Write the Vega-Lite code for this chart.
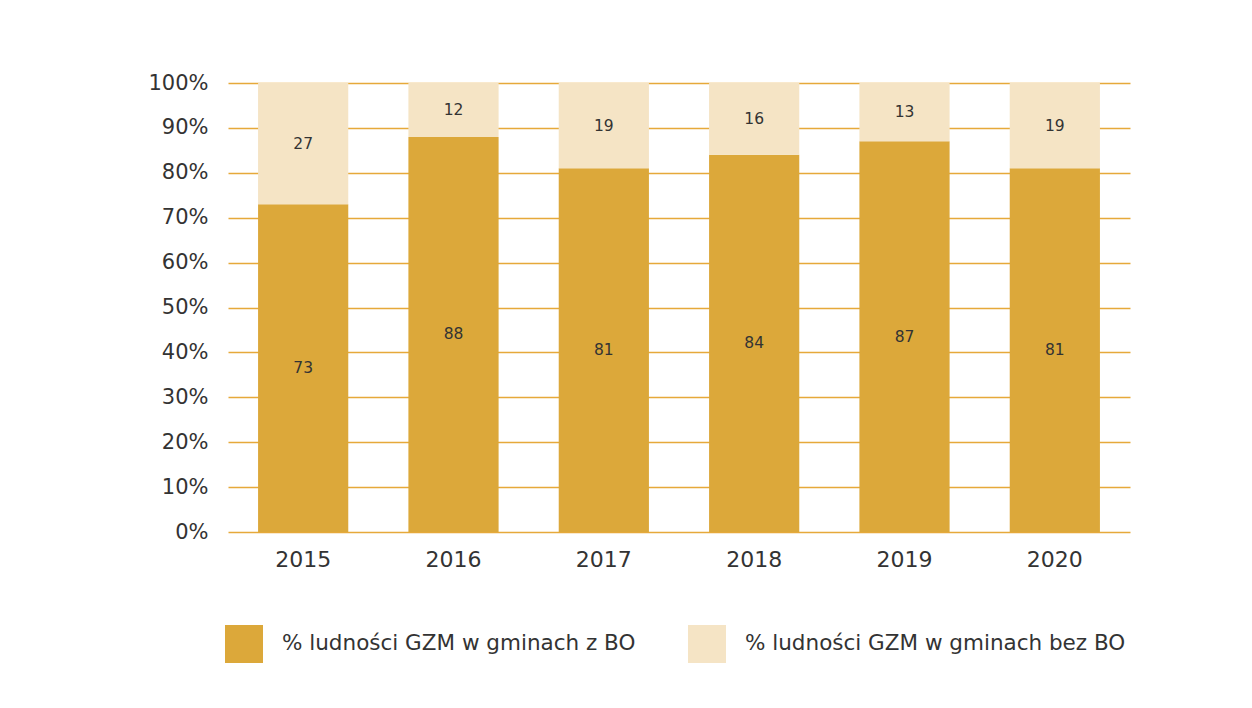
{
  "$schema": "https://vega.github.io/schema/vega-lite/v6.json",
  "width": 902,
  "height": 449,
  "autosize": "none",
  "padding": {"left": 228, "top": 83, "right": 122, "bottom": 176},
  "background": "white",
  "data": {"values": [
    {"year": "2015", "series": "% ludności GZM w gminach z BO", "value": 73, "k": 1},
    {"year": "2015", "series": "% ludności GZM w gminach bez BO", "value": 27, "k": 2},
    {"year": "2016", "series": "% ludności GZM w gminach z BO", "value": 88, "k": 1},
    {"year": "2016", "series": "% ludności GZM w gminach bez BO", "value": 12, "k": 2},
    {"year": "2017", "series": "% ludności GZM w gminach z BO", "value": 81, "k": 1},
    {"year": "2017", "series": "% ludności GZM w gminach bez BO", "value": 19, "k": 2},
    {"year": "2018", "series": "% ludności GZM w gminach z BO", "value": 84, "k": 1},
    {"year": "2018", "series": "% ludności GZM w gminach bez BO", "value": 16, "k": 2},
    {"year": "2019", "series": "% ludności GZM w gminach z BO", "value": 87, "k": 1},
    {"year": "2019", "series": "% ludności GZM w gminach bez BO", "value": 13, "k": 2},
    {"year": "2020", "series": "% ludności GZM w gminach z BO", "value": 81, "k": 1},
    {"year": "2020", "series": "% ludności GZM w gminach bez BO", "value": 19, "k": 2}
  ]},
  "transform": [
    {"stack": "value", "groupby": ["year"], "sort": [{"field": "k", "order": "ascending"}], "as": ["v0", "v1"]},
    {"calculate": "(datum.v0 + datum.v1) / 2", "as": "mid"}
  ],
  "encoding": {
    "x": {
      "field": "year", "type": "nominal",
      "scale": {"paddingInner": 0.4, "paddingOuter": 0.2},
      "axis": {"title": null, "labelAngle": 0, "ticks": false, "domain": false, "grid": false,
        "labelFont": "DejaVu Sans", "labelFontSize": 22, "labelColor": "#333333", "labelPadding": 17}
    }
  },
  "layer": [
    {
      "mark": {"type": "bar"},
      "encoding": {
        "y": {"field": "v1", "type": "quantitative",
          "scale": {"domain": [0, 100]},
          "axis": {"title": null, "values": [0,10,20,30,40,50,60,70,80,90,100], "labelOverlap": false,
            "labelExpr": "datum.value + '%'", "domain": false, "ticks": false,
            "gridColor": "#E6A93A", "gridWidth": 1.5, "gridOpacity": 1,
            "labelFont": "DejaVu Sans", "labelFontSize": 21, "labelColor": "#333333", "labelPadding": 20}},
        "y2": {"field": "v0"},
        "color": {"field": "series", "type": "nominal",
          "scale": {"domain": ["% ludności GZM w gminach z BO", "% ludności GZM w gminach bez BO"], "range": ["#DCA83A", "#F5E4C5"]},
          "legend": {"title": null, "orient": "none", "legendX": -3, "legendY": 542, "direction": "horizontal",
            "symbolType": "square", "symbolSize": 1444, "symbolStrokeWidth": 0, "symbolOpacity": 1,
            "labelFont": "DejaVu Sans", "labelFontSize": 21.5, "labelColor": "#333333", "labelOffset": 19,
            "columnPadding": 52, "labelLimit": 500}
        }
      }
    },
    {
      "mark": {"type": "text", "font": "DejaVu Sans", "fontSize": 15.5, "color": "#333333", "baseline": "middle"},
      "encoding": {
        "y": {"field": "mid", "type": "quantitative",
          "scale": {"domain": [0, 100]},
          "axis": {"title": null, "values": [0,10,20,30,40,50,60,70,80,90,100], "labelOverlap": false,
            "labelExpr": "datum.value + '%'", "domain": false, "ticks": false,
            "gridColor": "#E6A93A", "gridWidth": 1.5, "gridOpacity": 1,
            "labelFont": "DejaVu Sans", "labelFontSize": 21, "labelColor": "#333333", "labelPadding": 20}},
        "text": {"field": "value", "type": "quantitative"}
      }
    }
  ],
  "config": {"view": {"stroke": null}}
}
